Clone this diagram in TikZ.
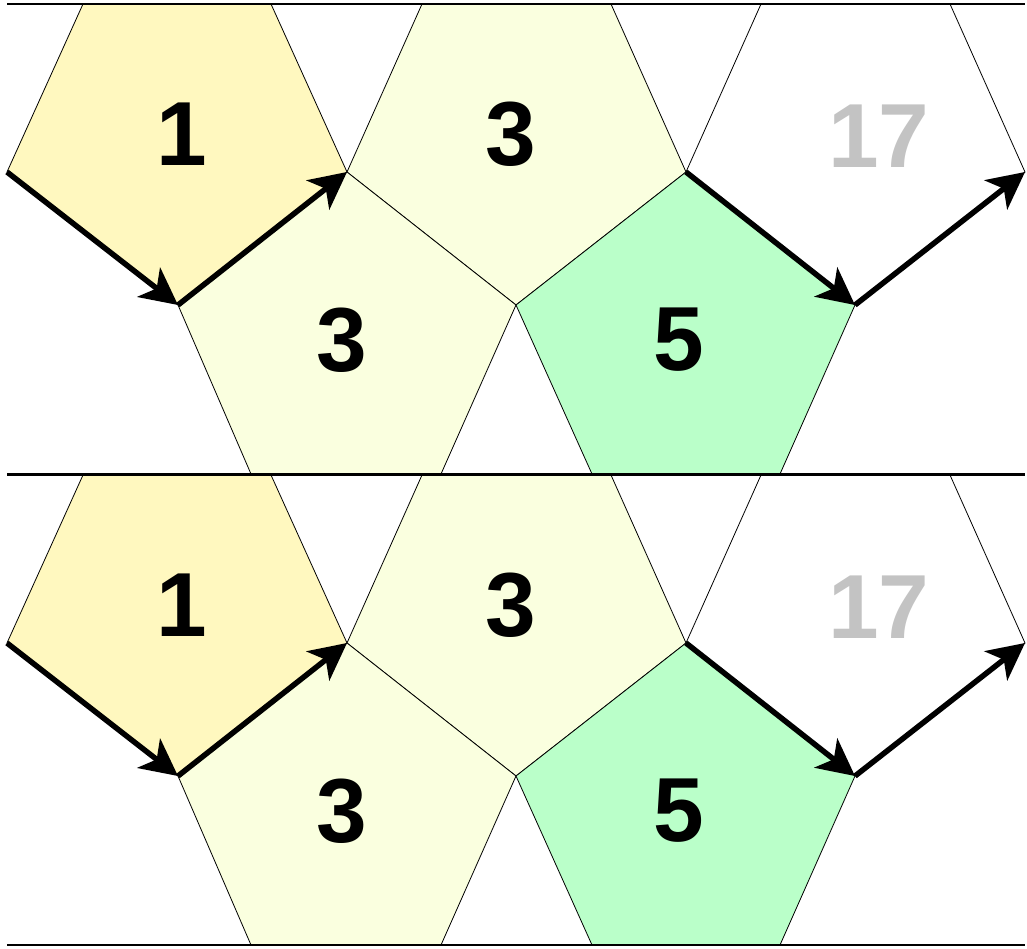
\documentclass[tikz,border=0pt]{standalone}
\usepackage{fontspec}
\setmainfont{Liberation Sans}
\usetikzlibrary{arrows.meta}
\definecolor{pyellow}{HTML}{FFF8BF}
\definecolor{pcream}{HTML}{FAFFDF}
\definecolor{pgreen}{HTML}{BAFFC9}
\definecolor{pgray}{HTML}{C3C3C3}
\tikzset{
  pent/.style={draw=black, line width=0.8pt},
  strip/.style={draw=black, line width=1.2pt},
  move/.style={draw=black, line width=5.5pt, -{Stealth[length=37pt 0 0,width=37pt 0,inset=10pt 0]}},
  num/.style={font=\fontsize{91}{91}\selectfont\bfseries, inner sep=0pt},
}
\begin{document}
\begin{tikzpicture}[x=1pt,y=-1pt]
\useasboundingbox (0,0) rectangle (1027,948);
\foreach \s/\dy in {a/0,b/471}{
\begin{scope}[shift={(0,\dy)}]
  % shared vertices
  \coordinate (L0\s) at (7,172);
  \coordinate (B1\s) at (178,305);
  \coordinate (T1\s) at (347,172);
  \coordinate (B2\s) at (516,305);
  \coordinate (T2\s) at (686,172);
  \coordinate (B3\s) at (855,305);
  \coordinate (T3\s) at (1025,172);
  % pentagons
  \fill[pyellow] (83,4) -- (271,4) -- (T1\s) -- (B1\s) -- (L0\s) -- cycle;
  \draw[pent] (271,4) -- (T1\s) -- (B1\s) -- (L0\s) -- (83,4);
  \fill[pcream] (422,4) -- (611,4) -- (T2\s) -- (B2\s) -- (T1\s) -- cycle;
  \draw[pent] (611,4) -- (T2\s) -- (B2\s) -- (T1\s) -- (422,4);
  \draw[pent] (950,4) -- (T3\s) -- (B3\s) -- (T2\s) -- (761,4);
  \fill[pcream] (T1\s) -- (B2\s) -- (441,474) -- (251,474) -- (B1\s) -- cycle;
  \draw[pent] (441,474) -- (B2\s) -- (T1\s) -- (B1\s) -- (251,474);
  \fill[pgreen] (T2\s) -- (B3\s) -- (780,474) -- (592,474) -- (B2\s) -- cycle;
  \draw[pent] (780,474) -- (B3\s) -- (T2\s) -- (B2\s) -- (592,474);
  % strip borders
  \draw[strip] (7,4) -- (1025,4);
  \draw[strip] (7,474) -- (1025,474);
  % moves
  \draw[move] (L0\s) -- (B1\s);
  \draw[move] (B1\s) -- (T1\s);
  \draw[move] (T2\s) -- (B3\s);
  \draw[move] (B3\s) -- (T3\s);
  % labels
  \node[num] (n1\s) at (182,134) {1};
  \node[num] (n3u\s) at (511,134) {3};
  \node[num, text=pgray] (n17\s) at (879,136) {17};
  \node[num] (n3l\s) at (342,340) {3};
  \node[num] (n5\s) at (679,340) {5};
\end{scope}
}
\end{tikzpicture}
\end{document}
